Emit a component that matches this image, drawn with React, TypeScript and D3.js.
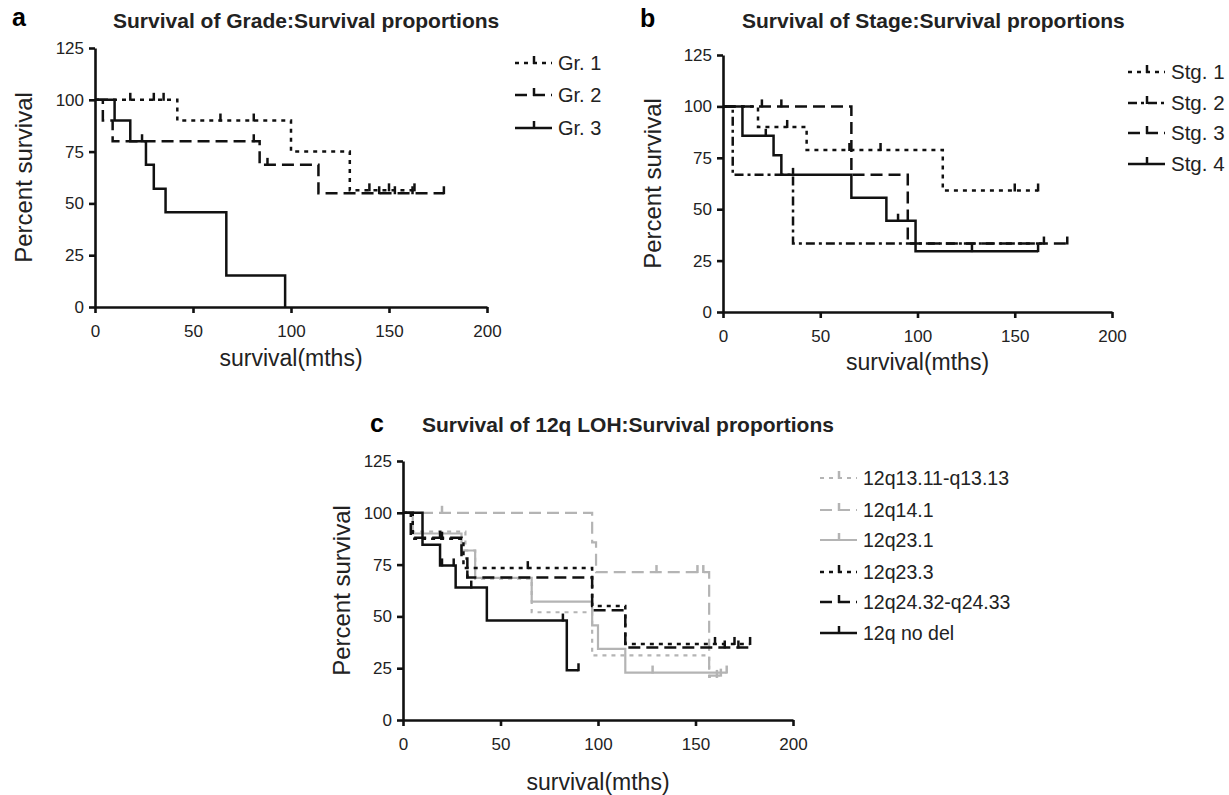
import * as d3 from 'd3'
import { useEffect, useRef } from 'react'

const FONT = '"Liberation Sans", Arial, Helvetica, sans-serif'

// shared axes
const xTicks = [0, 50, 100, 150, 200]
const yTicks = [0, 25, 50, 75, 100, 125]

// panel a - grade
const gr1Times = [0, 42, 100, 130]
const gr1Surv = [100, 90, 75, 56.3]
const gr1Censor = [18, 30, 35, 64, 81, 140, 150, 163]
const gr1End = 163
const gr2Times = [0, 4, 9, 84, 114]
const gr2Surv = [100, 90, 80, 68.6, 54.9]
const gr2Censor = [81, 88, 145, 153, 162, 178]
const gr2End = 178
const gr3Times = [0, 10, 18, 26, 30, 36, 67, 97]
const gr3Surv = [100, 90, 80, 68.6, 57.1, 45.7, 15.2, 0]
const gr3Censor = [24]
const gr3End = 97

// panel b - stage
const stg1Times = [0, 18, 43, 113]
const stg1Surv = [100, 90, 78.8, 59.1]
const stg1Censor = [33, 65, 81, 150, 162]
const stg1End = 162
const stg2Times = [0, 5, 36]
const stg2Surv = [100, 66.7, 33.3]
const stg2Censor = [165]
const stg2End = 165
const stg3Times = [0, 66, 95]
const stg3Surv = [100, 66.7, 33.3]
const stg3Censor = [20, 30, 177]
const stg3End = 177
const stg4Times = [0, 10, 26, 30, 66, 84, 99]
const stg4Surv = [100, 85.7, 76.2, 66.7, 55.6, 44.4, 29.6]
const stg4Censor = [22, 36, 90, 128, 162]
const stg4End = 162

// panel c - 12q LOH
const q13Times = [0, 5, 32, 37, 66, 97, 157]
const q13Surv = [100, 90.9, 81.8, 68.2, 52, 31.2, 20.8]
const q13Censor = [161]
const q13End = 161
const q14Times = [0, 97, 99, 157]
const q14Surv = [100, 85.7, 71.4, 21.4]
const q14Censor = [20, 130, 151, 154, 163]
const q14End = 164
const q231Times = [0, 5, 30, 37, 66, 97, 100, 114]
const q231Surv = [100, 90, 81.8, 68.6, 57.1, 45.7, 34.3, 22.9]
const q231Censor = [128, 166]
const q231End = 166
const q233Times = [0, 5, 31, 97, 114]
const q233Surv = [100, 87.5, 73.3, 55, 36.7]
const q233Censor = [20, 64, 160, 170, 178]
const q233End = 178
const q24Times = [0, 4, 30, 33, 97, 114]
const q24Surv = [100, 88, 78, 68.8, 53, 35]
const q24Censor = [19, 33, 165, 172]
const q24End = 178
const nodelTimes = [0, 10, 19, 27, 43, 84]
const nodelSurv = [100, 84.6, 74.6, 63.9, 48, 24]
const nodelCensor = [20, 26, 35, 82, 90]
const nodelEnd = 90

const gradeLabels = ['Gr. 1', 'Gr. 2', 'Gr. 3']
const stageLabels = ['Stg. 1', 'Stg. 2', 'Stg. 3', 'Stg. 4']
const lohLabels = ['12q13.11-q13.13', '12q14.1', '12q23.1', '12q23.3', '12q24.32-q24.33', '12q no del']

const BLACK = '#111'
const GRAY = '#b4b4b4'
const DOT = '4 5'
const DASH = '12 6'
const DASHDOT = '9 4 3 4'

const mk = (label, times, surv, censor, end, color, dash, width) => ({ label, times, surv, censor, end, color, dash, width })

const panels = [
  {
    letter: 'a', letterX: 12, letterY: 26,
    title: 'Survival of Grade:Survival proportions', titleX: 113, titleY: 28,
    x0: 95, x1: 487, y0: 307, y1: 48,
    ylabX: 24, xlabY: 366,
    legX: 515, legY: [63, 95, 128], legFont: 20,
    series: [
      mk(gradeLabels[0], gr1Times, gr1Surv, gr1Censor, gr1End, BLACK, DOT, 2.5),
      mk(gradeLabels[1], gr2Times, gr2Surv, gr2Censor, gr2End, BLACK, DASH, 2.5),
      mk(gradeLabels[2], gr3Times, gr3Surv, gr3Censor, gr3End, BLACK, '', 2.5),
    ],
  },
  {
    letter: 'b', letterX: 640, letterY: 27,
    title: 'Survival of Stage:Survival proportions', titleX: 742, titleY: 28,
    x0: 723, x1: 1112, y0: 312, y1: 55,
    ylabX: 653, xlabY: 370,
    legX: 1128, legY: [72, 103, 133, 164], legFont: 20.5,
    series: [
      mk(stageLabels[0], stg1Times, stg1Surv, stg1Censor, stg1End, BLACK, DOT, 2.5),
      mk(stageLabels[1], stg2Times, stg2Surv, stg2Censor, stg2End, BLACK, DASHDOT, 2.5),
      mk(stageLabels[2], stg3Times, stg3Surv, stg3Censor, stg3End, BLACK, DASH, 2.5),
      mk(stageLabels[3], stg4Times, stg4Surv, stg4Censor, stg4End, BLACK, '', 2.5),
    ],
  },
  {
    letter: 'c', letterX: 370, letterY: 432,
    title: 'Survival of 12q LOH:Survival proportions', titleX: 422, titleY: 432,
    x0: 403, x1: 793, y0: 720, y1: 461,
    ylabX: 342, xlabY: 790,
    legX: 820, legY: [478, 510, 540, 572, 602, 633], legFont: 19.5,
    series: [
      mk(lohLabels[0], q13Times, q13Surv, q13Censor, q13End, GRAY, DOT, 2.2),
      mk(lohLabels[1], q14Times, q14Surv, q14Censor, q14End, GRAY, DASH, 2.2),
      mk(lohLabels[2], q231Times, q231Surv, q231Censor, q231End, GRAY, '', 2.2),
      mk(lohLabels[3], q233Times, q233Surv, q233Censor, q233End, BLACK, DOT, 2.5),
      mk(lohLabels[4], q24Times, q24Surv, q24Censor, q24End, BLACK, DASH, 2.5),
      mk(lohLabels[5], nodelTimes, nodelSurv, nodelCensor, nodelEnd, BLACK, '', 2.5),
    ],
  },
]

const survAt = (s, t) => {
  let v = s.surv[0]
  s.times.forEach((tt, i) => {
    if (tt <= t) v = s.surv[i]
  })
  return v
}

function drawPanel(svg, p) {
  const g = svg.append('g')
  const x = d3.scaleLinear().domain([0, 200]).range([p.x0, p.x1])
  const y = d3.scaleLinear().domain([0, 125]).range([p.y0, p.y1])

  const yAxis = d3.axisLeft(y).tickValues(yTicks).tickSizeOuter(0).tickSizeInner(6).tickPadding(5)
  const xAxis = d3.axisBottom(x).tickValues(xTicks).tickSizeOuter(0).tickSizeInner(6).tickPadding(12)
  const yg = g.append('g').attr('transform', `translate(${p.x0},0)`).call(yAxis)
  const xg = g.append('g').attr('transform', `translate(0,${p.y0})`).call(xAxis)
  ;[xg, yg].forEach((a) => {
    a.select('.domain').attr('stroke', BLACK).attr('stroke-width', 2.6)
    a.selectAll('.tick line').attr('stroke', BLACK).attr('stroke-width', 2.6)
    a.selectAll('text').attr('font-size', 17).attr('font-family', FONT).attr('fill', '#222')
  })

  // curves (grey ones underneath)
  const line = d3
    .line()
    .x((d) => x(d[0]))
    .y((d) => y(d[1]))
    .curve(d3.curveStepAfter)
  const order = [...p.series].sort((a, b) => (a.color === GRAY ? 0 : 1) - (b.color === GRAY ? 0 : 1))
  order.forEach((s) => {
    const pts = s.times.map((t, i) => [t, s.surv[i]])
    pts.push([s.end, s.surv[s.surv.length - 1]])
    g.append('path')
      .attr('d', line(pts))
      .attr('fill', 'none')
      .attr('stroke', s.color)
      .attr('stroke-width', s.width)
      .attr('stroke-dasharray', s.dash || null)
    g.append('g')
      .selectAll('line')
      .data(s.censor)
      .join('line')
      .attr('x1', (t) => x(t))
      .attr('x2', (t) => x(t))
      .attr('y1', (t) => y(survAt(s, t)) + 1)
      .attr('y2', (t) => y(survAt(s, t)) - 7)
      .attr('stroke', s.color)
      .attr('stroke-width', 2.5)
  })

  // legend
  const leg = g.append('g')
  p.series.forEach((s, i) => {
    const ly = p.legY[i]
    leg.append('line')
      .attr('x1', p.legX).attr('x2', p.legX + 37)
      .attr('y1', ly).attr('y2', ly)
      .attr('stroke', s.color).attr('stroke-width', s.width)
      .attr('stroke-dasharray', s.dash || null)
    leg.append('line')
      .attr('x1', p.legX + 19).attr('x2', p.legX + 19)
      .attr('y1', ly + 1).attr('y2', ly - 7)
      .attr('stroke', s.color).attr('stroke-width', 2.5)
    leg.append('text')
      .attr('x', p.legX + 43).attr('y', ly).attr('dy', '0.35em')
      .attr('font-size', p.legFont).attr('font-family', FONT).attr('fill', '#222')
      .text(s.label)
  })

  // titles and axis labels
  g.append('text').attr('x', p.letterX).attr('y', p.letterY)
    .attr('font-size', 25).attr('font-weight', 'bold').attr('font-family', FONT)
    .text(p.letter)
  g.append('text').attr('x', p.titleX).attr('y', p.titleY)
    .attr('font-size', 21).attr('font-weight', 'bold').attr('font-family', FONT).attr('fill', '#222')
    .text(p.title)
  g.append('text').attr('x', (p.x0 + p.x1) / 2).attr('y', p.xlabY)
    .attr('text-anchor', 'middle').attr('font-size', 23).attr('font-family', FONT).attr('fill', '#222')
    .text('survival(mths)')
  g.append('text')
    .attr('transform', `translate(${p.ylabX},${(p.y0 + p.y1) / 2}) rotate(-90)`)
    .attr('text-anchor', 'middle').attr('dy', '0.35em')
    .attr('font-size', 24).attr('font-family', FONT).attr('fill', '#222')
    .text('Percent survival')
}

export default function App() {
  const svgRef = useRef(null)

  useEffect(() => {
    document.body.style.margin = '0'
    const svg = d3.select(svgRef.current)
    svg.selectAll('*').remove()
    svg.append('rect').attr('width', 1229).attr('height', 795).attr('fill', '#fff')
    panels.forEach((p) => drawPanel(svg, p))
  }, [])

  return <svg ref={svgRef} width={1229} height={795} style={{ display: 'block' }} />
}
